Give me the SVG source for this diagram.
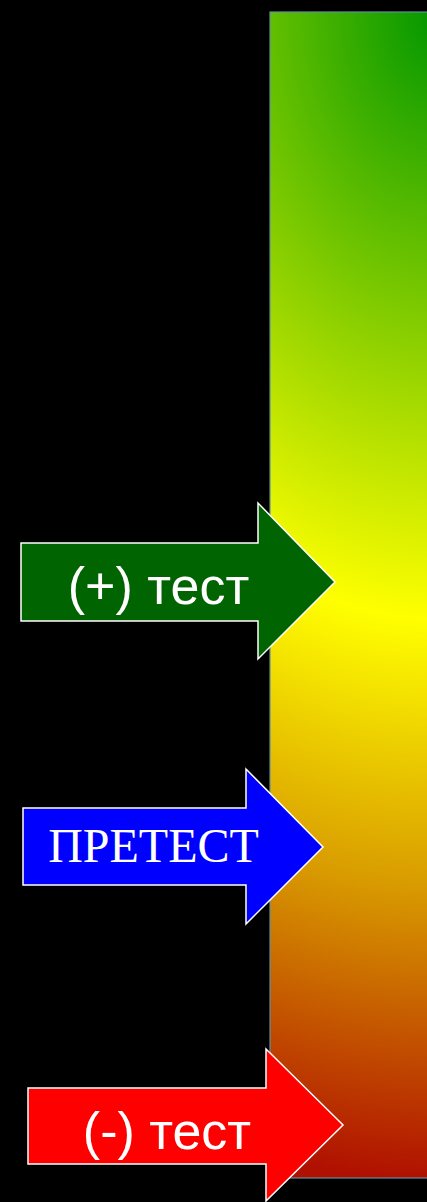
<svg xmlns="http://www.w3.org/2000/svg" width="427" height="1202" viewBox="0 0 427 1202">
  <style>
    .arrow { stroke: #ffffff; stroke-width: 1.5; stroke-linejoin: miter; }
    .sans { font-family: "Liberation Sans", Arial, sans-serif; font-size: 52px; fill: #ffffff; text-anchor: middle; }
    .serif { font-family: "Liberation Serif", "Times New Roman", serif; font-size: 48px; fill: #ffffff; text-anchor: middle; }
  </style>
  <defs>
    <radialGradient id="scale" gradientUnits="userSpaceOnUse" cx="0" cy="0" r="1168" gradientTransform="translate(440 12) scale(0.72 1)">
      <stop offset="0" stop-color="#009600"/>
      <stop offset="0.52" stop-color="#ffff00"/>
      <stop offset="0.75" stop-color="#d89a00"/>
      <stop offset="1" stop-color="#b01000"/>
    </radialGradient>
  </defs>
  <rect x="0" y="0" width="427" height="1202" fill="#000000"/>
  <g id="scale-bar">
    <rect x="270" y="12" width="160" height="1166" fill="url(#scale)" stroke="#5f8fa3" stroke-width="1.2"/>
  </g>
  <g id="connectors"></g>
  <g id="positive-test">
    <path class="arrow" fill="#006400" d="M21,543 H258 V503 L335,582 L258,659 V621 H21 Z"/>
    <text class="sans" x="158.5" y="604">(+) тест</text>
  </g>
  <g id="pretest">
    <path class="arrow" fill="#0000ff" d="M23,808 H246 V769 L323,847 L246,924 V885 H23 Z"/>
    <text class="serif" x="153.5" y="862">ПРЕТЕСТ</text>
  </g>
  <g id="negative-test">
    <path class="arrow" fill="#ff0000" d="M28,1088 H266 V1049 L343,1125 L266,1201 V1164 H28 Z"/>
    <text class="sans" x="167" y="1149">(-) тест</text>
  </g>
</svg>
